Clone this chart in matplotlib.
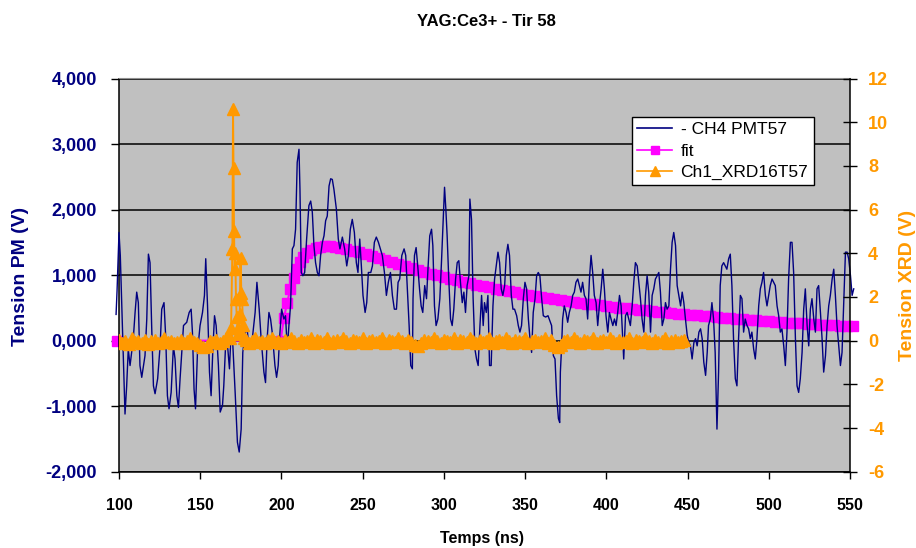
import numpy as np
import matplotlib
matplotlib.use("Agg")
import matplotlib.pyplot as plt
from matplotlib.lines import Line2D

plt.rcParams['font.family'] = ['Liberation Sans', 'DejaVu Sans']

# ---------------- data ----------------
title = "YAG:Ce3+ - Tir 58"
x_label = "Temps (ns)"
y_label_left = "Tension PM (V)"
y_label_right = "Tension XRD (V)"
series_names = ["- CH4 PMT57", "fit", "Ch1_XRD16T57"]

x_ticks = [100, 150, 200, 250, 300, 350, 400, 450, 500, 550]
left_ticks = [-2000, -1000, 0, 1000, 2000, 3000, 4000]
left_tick_labels = ["-2,000", "-1,000", "0,000", "1,000", "2,000", "3,000", "4,000"]
right_ticks = [-6, -4, -2, 0, 2, 4, 6, 8, 10, 12]

# CH4 PMT57 (left axis)
pm_t = [98.2, 98.8, 99.6, 100.0, 100.8, 101.6, 102.5, 103.7, 104.7, 105.7, 106.8, 108.8, 109.9, 110.9,
        111.9, 112.9, 114.0, 116.0, 117.1, 118.1, 119.1, 120.1, 121.2, 122.2, 123.8, 125.3, 126.3, 127.7,
        128.8, 129.8, 130.8, 132.1, 133.5, 134.5, 135.6, 136.6, 137.6, 139.7, 141.7, 143.2, 144.4, 145.2,
        146.2, 147.1, 148.3, 149.9, 151.4, 152.6, 153.4, 154.5, 155.7, 156.7, 157.7, 158.8, 159.8, 161.2,
        162.3, 163.7, 164.5, 165.8, 167.0, 168.0, 169.0, 170.1, 171.5, 172.9, 174.0, 175.2, 176.2, 177.7,
        179.1, 179.7, 180.8, 181.8, 183.8, 184.9, 186.3, 187.5, 188.2, 189.2, 190.2, 191.2, 192.3, 193.3,
        194.3, 196.0, 197.0, 198.0, 198.8, 200.1, 201.5, 202.5, 203.6, 204.6, 205.6, 206.7, 207.7, 208.7,
        209.7, 210.8, 211.4, 212.2, 213.2, 214.3, 215.5, 216.9, 218.0, 219.0, 220.0, 221.0, 222.1, 223.1,
        224.1, 225.2, 226.2, 227.2, 228.2, 229.3, 230.3, 231.3, 232.3, 233.8, 235.0, 236.0, 237.5, 238.9,
        240.2, 241.2, 242.4, 243.6, 244.9, 246.1, 247.1, 248.2, 249.2, 250.2, 251.5, 252.5, 253.5, 255.0,
        256.0, 257.2, 258.4, 259.7, 260.9, 262.1, 263.4, 264.6, 265.8, 267.1, 268.3, 269.5, 270.8, 271.8,
        272.8, 274.1, 275.5, 276.5, 277.6, 278.6, 279.6, 280.6, 281.0, 281.9, 282.9, 283.9, 285.0, 286.0,
        287.0, 288.2, 289.3, 290.3, 291.3, 292.4, 293.2, 294.2, 295.2, 296.3, 297.5, 298.5, 299.5, 300.4,
        301.2, 302.0, 303.0, 304.1, 305.1, 306.1, 307.2, 308.2, 309.2, 310.2, 311.3, 312.3, 313.3, 314.3,
        315.4, 316.0, 317.0, 318.0, 319.1, 320.1, 321.1, 322.2, 323.2, 324.2, 325.0, 326.1, 327.1, 328.1,
        329.1, 330.2, 331.2, 332.2, 333.3, 334.3, 335.3, 336.3, 337.4, 338.4, 339.4, 340.4, 341.5, 342.5,
        343.5, 344.8, 345.8, 346.8, 347.8, 348.9, 349.9, 350.9, 352.0, 353.0, 354.0, 355.0, 356.1, 357.1,
        358.1, 359.1, 360.2, 361.2, 362.6, 364.1, 365.3, 366.3, 367.4, 368.4, 369.4, 370.5, 371.3, 371.7,
        372.3, 373.1, 374.1, 375.2, 376.2, 377.2, 378.3, 379.3, 380.3, 381.3, 382.4, 383.4, 384.4, 385.4,
        386.5, 387.5, 388.5, 389.6, 390.6, 391.6, 392.6, 393.7, 394.7, 395.7, 396.8, 397.8, 398.8, 399.8,
        400.9, 401.9, 402.9, 404.0, 405.0, 406.0, 407.0, 408.1, 409.1, 410.1, 410.7, 411.8, 412.8, 413.8,
        414.8, 415.9, 416.9, 417.9, 419.0, 420.0, 421.0, 422.0, 423.1, 424.1, 425.1, 426.1, 427.2, 428.2,
        429.2, 430.2, 431.3, 432.3, 433.3, 434.4, 435.4, 436.4, 437.4, 438.5, 439.5, 440.5, 441.5, 442.6,
        443.6, 444.6, 445.7, 446.7, 447.7, 448.7, 449.8, 450.8, 451.8, 452.8, 453.9, 454.9, 455.9, 457.0,
        458.0, 459.0, 460.0, 461.1, 462.1, 462.9, 464.0, 465.0, 466.0, 467.0, 468.1, 469.1, 470.1, 471.1,
        472.2, 473.2, 474.2, 475.3, 476.3, 477.3, 478.3, 479.4, 480.4, 481.4, 482.5, 483.5, 484.5, 485.5,
        486.6, 487.6, 488.6, 489.6, 490.7, 491.7, 492.7, 493.8, 494.8, 495.8, 496.8, 497.9, 498.9, 499.9,
        500.9, 502.0, 503.0, 504.0, 505.1, 506.1, 507.1, 508.1, 509.2, 510.2, 511.2, 512.2, 513.3, 514.3,
        515.3, 516.4, 517.4, 518.4, 519.4, 520.5, 521.5, 522.5, 523.6, 524.6, 525.6, 526.6, 527.7, 528.7,
        529.7, 530.7, 531.8, 532.8, 533.8, 534.9, 535.9, 536.9, 537.9, 539.0, 540.0, 541.0, 542.0, 543.1,
        544.1, 545.1, 546.2, 547.2, 548.2, 549.2, 550.3, 551.3, 552.3]
pm_v = [400, 760, 1350, 1650, 1300, 640, -80, -1120, -700, -130, -380, 30, 430, 740,
        580, -380, -560, -230, 330, 1320, 1190, 230, -690, -810, -580, -80, 480, 580,
        30, -840, -1040, -790, -80, -280, -840, -1020, -580, 230, 280, 430, 480, 130,
        -740, -1040, -180, 230, 430, 690, 1250, 530, -480, -840, -180, 380, 230, -380,
        -1090, -990, -690, 30, -130, -430, 130, -80, -790, -1550, -1700, -1350, -180, 150,
        130, -50, -130, -30, 430, 890, 480, 30, -180, -480, -640, 30, 430, 330,
        130, -380, -560, -380, 30, 480, 330, 380, -130, 230, 530, 1400, 1450, 1700,
        2720, 2920, 2310, 1040, 990, 1040, 1550, 2060, 2130, 1960, 1450, 1190, 1040, 990,
        1300, 1500, 1600, 1830, 1900, 2360, 2470, 2460, 2310, 2010, 1550, 1400, 1580, 1400,
        1140, 1300, 1700, 1850, 1650, 1190, 1040, 1550, 1140, 690, 430, 580, 1040, 1040,
        1140, 1500, 1580, 1500, 1400, 1300, 1040, 690, 890, 1040, 690, 480, 480, 890,
        940, 1300, 1400, 1300, 740, 230, -380, -430, 640, 1300, 1420, 1140, 790, 530,
        430, 840, 640, 1140, 1600, 1700, 1450, 530, 230, 330, 640, 1190, 1800, 2340,
        2010, 1600, 940, 330, 230, 480, 940, 1190, 1220, 890, 580, 740, 430, 840,
        990, 2160, 1850, 640, -130, -280, -380, 230, 690, 230, 580, 430, 690, -380,
        -380, 530, 940, 1140, 1350, 1190, 790, 690, 840, 1300, 1470, 1300, 690, 480,
        480, 380, 230, 130, 230, 640, 890, 790, 330, 30, -180, 430, 640, 990,
        1040, 990, 640, 380, 360, 380, 300, 230, -230, -280, -840, -1190, -1250, -480,
        -180, 330, 530, 430, 280, 430, 530, 690, 740, 890, 940, 840, 740, 890,
        690, 640, 330, 940, 1300, 1040, 690, 580, 230, 530, 790, 1090, 790, 380,
        130, 430, 330, 230, 330, 230, 430, 690, 530, 30, -280, 380, 430, 330,
        230, 530, 890, 1190, 1140, 890, 640, 330, 130, 690, 990, 740, 130, 690,
        790, 940, 990, 1040, 740, 230, 330, 580, 480, 530, 1090, 1500, 1650, 1450,
        840, 690, 530, 740, 580, 330, 80, -30, -80, -280, -30, 30, -80, 130,
        180, 30, -330, -530, -180, 230, 330, 580, 330, -180, -1350, -480, 840, 1140,
        1190, 1140, 1090, 1250, 1320, 840, 30, -580, -690, 30, 690, 640, 130, 330,
        230, 180, 30, 130, -130, -280, 30, 530, 790, 890, 1040, 690, 530, 690,
        840, 940, 890, 840, 530, 380, 130, 180, -80, -380, 130, 940, 1500, 1500,
        1040, 30, -690, -790, -580, -180, 480, 790, 230, -80, 480, 640, 330, 130,
        790, 840, 430, 30, -480, -230, 230, 530, 690, 940, 1090, 690, 230, -80,
        -380, -180, 640, 1350, 1350, 1250, 990, 690, 790]

# fit (left axis)
fit_t = [98.8, 199.5, 201.5, 203.5, 205.5, 207.5, 209.5, 211.5, 213.5, 215.5, 218, 221, 224, 227, 230,
         233, 236, 240, 244, 248, 252, 256, 260, 264, 268, 272, 276, 280, 284, 288, 292, 296, 300,
         304, 308, 312, 316, 320, 324, 328, 332, 336, 340, 344, 348, 352, 356, 360, 364, 368, 372,
         376, 380, 384, 388, 392, 396, 400, 404, 408, 412, 416, 420, 424, 428, 432, 436, 440, 444,
         448, 452, 456, 460, 464, 468, 472, 476, 480, 484, 488, 492, 496, 500, 504, 508, 512, 516,
         520, 524, 528, 532, 536, 540, 544, 548, 552]
fit_v = [0, 0, 340, 580, 790, 960, 1100, 1200, 1280, 1335, 1385, 1415, 1432, 1440, 1438,
         1430, 1418, 1398, 1375, 1350, 1320, 1290, 1260, 1230, 1200, 1170, 1140, 1110, 1080, 1050, 1020, 995, 970,
         945, 920, 900, 875, 855, 835, 815, 795, 775, 755, 735, 718, 700, 683, 667, 651, 636, 621,
         606, 592, 578, 565, 552, 539, 527, 515, 503, 492, 481, 470, 460, 450, 440, 430, 421, 412,
         403, 394, 386, 378, 370, 362, 352, 343, 335, 327, 320, 313, 306, 300, 290, 283, 276, 270,
         263, 256, 250, 244, 238, 232, 227, 222, 217]

# Ch1_XRD16T57 (right axis): baseline before the spike, spike, baseline after
xrd_t_before = [100, 102, 104, 106, 108, 110, 112, 114, 116, 118, 120, 122, 124, 126, 128, 130, 132,
                134, 136, 138, 140, 142, 144, 146, 148, 150, 152, 154, 156, 158, 160, 162, 164, 166]
xrd_v_before = [0.05, -0.1, 0.0, -0.15, 0.1, -0.05, 0.0, -0.1, 0.05, -0.15, 0.0, 0.05, -0.1, -0.05,
                0.1, -0.05, 0.0, -0.1, -0.05, 0.05, -0.1, 0.0, 0.1, -0.05, -0.1, -0.2, -0.3, -0.25,
                0.0, -0.05, 0.05, -0.1, 0.0, 0.1]
xrd_t_spike = [168.5, 169.0, 169.8, 170.2, 170.5, 170.8, 171.2, 171.6, 172.0, 172.5, 173.0, 173.5,
               174.3, 174.8, 175.3, 175.8, 176.3, 177.0]
xrd_v_spike = [0.1, 0.6, 4.2, 10.6, 7.9, 5.0, 3.3, 4.0, 1.9, 1.1, 0.6, 0.3,
               1.2, 3.8, 2.2, 1.9, 0.7, 0.1]
xrd_t_after = [178, 180, 182, 184, 186, 188, 190, 192, 194, 196, 198, 200, 202, 204, 206, 208, 210,
               212, 214, 216, 218, 220, 222, 224, 226, 228, 230, 232, 234, 236, 238, 240, 242, 244,
               246, 248, 250, 252, 254, 256, 258, 260, 262, 264, 266, 268, 270, 272, 274, 276, 278,
               280, 282, 284, 286, 288, 290, 292, 294, 296, 298, 300, 302, 304, 306, 308, 310, 312,
               314, 316, 318, 320, 322, 324, 326, 328, 330, 332, 334, 336, 338, 340, 342, 344, 346,
               348, 350, 352, 354, 356, 358, 360, 362, 364, 366, 368, 370, 372, 374, 376, 378, 380,
               382, 384, 386, 388, 390, 392, 394, 396, 398, 400, 402, 404, 406, 408, 410, 412, 414,
               416, 418, 420, 422, 424, 426, 428, 430, 432, 434, 436, 438, 440, 442, 444, 446, 448]
xrd_v_after = [0.05, -0.1, 0.0, 0.1, -0.05, 0.0, -0.1, 0.05, 0.1, -0.05, 0.0, -0.1, 0.05, -0.05,
               0.1, 0.0, -0.1, 0.05, -0.05, 0.0, 0.1, -0.1, 0.05, 0.0, -0.05, 0.1, -0.1, 0.0,
               0.05, -0.05, 0.1, 0.0, -0.1, 0.05, 0.0, -0.05, 0.1, -0.1, 0.0, 0.05, -0.05, 0.0,
               0.1, -0.1, 0.05, 0.0, -0.05, 0.1, 0.0, -0.1, 0.05, -0.05, -0.2, -0.25, -0.1, 0.05,
               0.0, -0.05, 0.1, 0.0, -0.1, 0.05, 0.0, -0.05, 0.1, -0.1, 0.05, 0.0, -0.05, 0.1,
               0.0, -0.1, 0.05, -0.05, 0.0, 0.1, -0.1, 0.0, 0.05, -0.05, 0.1, 0.0, -0.1, 0.05,
               0.0, -0.05, 0.1, -0.1, 0.0, 0.05, -0.05, 0.0, 0.1, -0.1, 0.05, -0.2, -0.3, -0.2,
               0.0, 0.05, -0.05, 0.1, 0.0, -0.1, 0.05, 0.0, -0.05, 0.1, -0.1, 0.0, 0.05, -0.05,
               0.1, 0.0, -0.1, 0.05, -0.05, 0.0, 0.1, -0.1, 0.05, 0.0, -0.05, 0.1, 0.0, -0.1,
               0.05, -0.05, 0.0, 0.1, -0.1, 0.0, 0.05, -0.05, 0.0, 0.05]
xrd_t = xrd_t_before + xrd_t_spike + xrd_t_after
xrd_v = xrd_v_before + xrd_v_spike + xrd_v_after

# ---------------- styles ----------------
NAVY = '#000080'
MAGENTA = '#FF00FF'
ORANGE = '#FF9900'

W, H = 916, 548
fig = plt.figure(figsize=(W / 100, H / 100), dpi=100)
fig.patch.set_facecolor('white')

L, R, T, B = 119, 850, 78.5, 471.7
ax = fig.add_axes([L / W, 1 - B / H, (R - L) / W, (B - T) / H])
ax.set_facecolor('#C0C0C0')
ax.set_xlim(100, 550)
ax.set_ylim(-2000, 4000)
ax.set_xticks(x_ticks)
ax.set_xticklabels([str(v) for v in x_ticks])
ax.set_yticks(left_ticks)
ax.set_yticklabels(left_tick_labels)
ax.grid(axis='y', color='black', lw=1.1)
ax.grid(axis='x', visible=False)
ax.set_axisbelow(True)

ax.tick_params(axis='y', direction='out', length=6, width=1, pad=10,
               labelcolor=NAVY, labelsize=13)
ax.tick_params(axis='x', direction='out', length=5, width=1, pad=14,
               labelcolor='black', labelsize=11.5)
for lab in ax.get_yticklabels() + ax.get_xticklabels():
    lab.set_fontweight('bold')

for s in ['left', 'bottom']:
    ax.spines[s].set_color('black')
    ax.spines[s].set_linewidth(1.1)
ax.spines['top'].set_color('#909090')
ax.spines['right'].set_visible(False)

ax.plot(fit_t, fit_v, color=MAGENTA, lw=1.5, marker='s', ms=7.5, mec=MAGENTA,
        mfc=MAGENTA, zorder=2, clip_on=False)
ax.plot(pm_t, pm_v, color=NAVY, lw=1.0, zorder=3, clip_on=False)

ax2 = ax.twinx()
ax2.set_ylim(-6, 12)
ax2.set_yticks(right_ticks)
ax2.set_yticklabels([str(v) for v in right_ticks])
ax2.tick_params(axis='y', direction='inout', length=10, width=1, pad=8,
                labelcolor=ORANGE, labelsize=13)
for lab in ax2.get_yticklabels():
    lab.set_fontweight('bold')
for s in ['left', 'top', 'bottom']:
    ax2.spines[s].set_visible(False)
ax2.spines['right'].set_color('black')
ax2.spines['right'].set_linewidth(1.1)
ax2.patch.set_visible(False)

ax2.plot(xrd_t, xrd_v, color=ORANGE, lw=1.4, marker='^', ms=8.5, mec=ORANGE,
         mfc=ORANGE, zorder=4)

handles = [Line2D([], [], color=NAVY, lw=1.2),
           Line2D([], [], color=MAGENTA, lw=1.2, marker='s', ms=6, mec=MAGENTA, mfc=MAGENTA),
           Line2D([], [], color=ORANGE, lw=1.2, marker='^', ms=7, mec=ORANGE, mfc=ORANGE)]
leg = ax2.legend(handles, series_names, loc='upper left',
                 bbox_to_anchor=((632 - L) / (R - L), (B - 117) / (B - T)),
                 frameon=True, fancybox=False, framealpha=1, edgecolor='black',
                 facecolor='white', fontsize=12.5, handlelength=2.0, handletextpad=0.5,
                 borderpad=0.3, labelspacing=0.35, borderaxespad=0)
leg.get_frame().set_linewidth(1.0)

fig.text(486 / W, 1 - 22 / H, title, ha='center', va='center', fontsize=12,
         fontweight='bold', color='black')
fig.text(482 / W, 1 - 539 / H, x_label, ha='center', va='center', fontsize=11.5,
         fontweight='bold', color='black')
fig.text(21 / W, 1 - 276 / H, y_label_left, ha='center', va='center', rotation=90,
         fontsize=14, fontweight='bold', color=NAVY)
fig.text(907 / W, 1 - 285 / H, y_label_right, ha='center', va='center', rotation=90,
         fontsize=14, fontweight='bold', color=ORANGE)

fig.savefig('out.png', dpi=100, facecolor='white')
